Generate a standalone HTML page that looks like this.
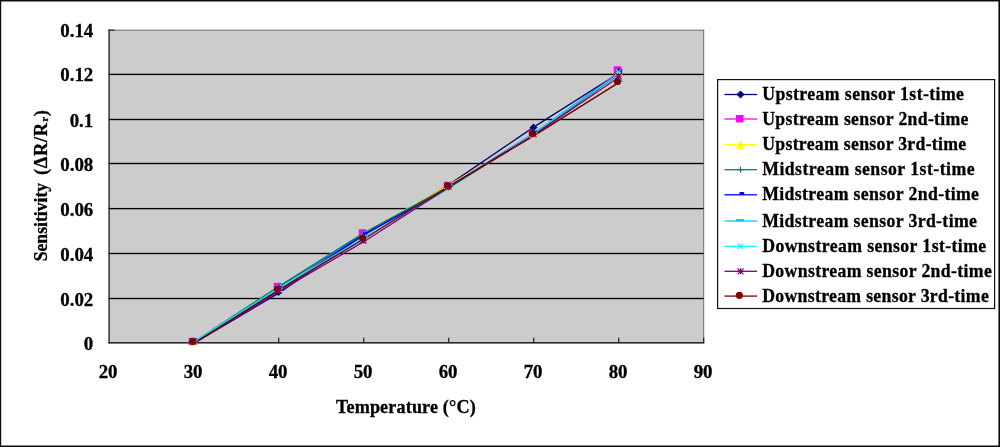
<!DOCTYPE html>
<html lang="en"><head><meta charset="utf-8"><title>Sensitivity vs Temperature</title>
<style>
html,body{margin:0;padding:0;background:#fff;}
body{width:1000px;height:447px;overflow:hidden;}
svg{display:block;}
text{font-family:"Liberation Serif","Times New Roman",serif;font-weight:bold;fill:#000;stroke:#000;stroke-width:0.3px;}
.ax{font-size:18.9px;}
.lg{font-size:18.1px;}
</style></head><body>
<svg width="1000" height="447" viewBox="0 0 1000 447">
<rect x="0" y="0" width="1000" height="447" fill="#fff"/>

<path d="M0 0H1000V447H0Z M1.2 1.6V445.6H998.4V1.6Z" fill="#0c0c0c" fill-rule="evenodd"/>
<rect x="108.5" y="30" width="595.5" height="313" fill="#cccccc"/>
<rect x="108.5" y="29.6" width="595.7" height="1.2" fill="#808080"/>
<rect x="703" y="29.6" width="1.2" height="313.6" fill="#808080"/>
<rect x="108.5" y="297.82" width="595" height="1.36" fill="#000"/>
<rect x="108.5" y="252.82" width="595" height="1.36" fill="#000"/>
<rect x="108.5" y="207.92" width="595" height="1.36" fill="#000"/>
<rect x="108.5" y="162.82" width="595" height="1.36" fill="#000"/>
<rect x="108.5" y="118.82" width="595" height="1.36" fill="#000"/>
<rect x="108.5" y="73.72" width="595" height="1.36" fill="#000"/>
<rect x="108.45" y="29.6" width="1.3" height="313.8" fill="#222"/>
<rect x="108.45" y="342.0" width="595.8" height="1.6" fill="#2a2a2a"/>
<rect x="108.5" y="29.6" width="6" height="1.2" fill="#222"/>
<rect x="193.10" y="337.6" width="1.2" height="5" fill="#222"/>
<rect x="278.10" y="337.6" width="1.2" height="5" fill="#222"/>
<rect x="363.10" y="337.6" width="1.2" height="5" fill="#222"/>
<rect x="448.10" y="337.6" width="1.2" height="5" fill="#222"/>
<rect x="533.10" y="337.6" width="1.2" height="5" fill="#222"/>
<rect x="618.10" y="337.6" width="1.2" height="5" fill="#222"/>
<rect x="703.10" y="337.6" width="1.2" height="5" fill="#222"/>
<text class="ax" x="93.3" y="349.6" text-anchor="end">0</text>
<text class="ax" x="93.3" y="305.5" text-anchor="end">0.02</text>
<text class="ax" x="93.3" y="260.5" text-anchor="end">0.04</text>
<text class="ax" x="93.3" y="215.6" text-anchor="end">0.06</text>
<text class="ax" x="93.3" y="170.5" text-anchor="end">0.08</text>
<text class="ax" x="93.3" y="126.5" text-anchor="end">0.1</text>
<text class="ax" x="93.3" y="81.4" text-anchor="end">0.12</text>
<text class="ax" x="93.3" y="37.3" text-anchor="end">0.14</text>
<text class="ax" x="108.1" y="378.2" text-anchor="middle">20</text>
<text class="ax" x="193.1" y="378.2" text-anchor="middle">30</text>
<text class="ax" x="278.1" y="378.2" text-anchor="middle">40</text>
<text class="ax" x="363.1" y="378.2" text-anchor="middle">50</text>
<text class="ax" x="448.1" y="378.2" text-anchor="middle">60</text>
<text class="ax" x="533.1" y="378.2" text-anchor="middle">70</text>
<text class="ax" x="618.1" y="378.2" text-anchor="middle">80</text>
<text class="ax" x="703.1" y="378.2" text-anchor="middle">90</text>
<text x="335.9" y="412.8" font-size="18.1" textLength="139.8" lengthAdjust="spacing">Temperature (°C)</text>
<g transform="translate(46.6 261) rotate(-90)" font-size="18.5"><text transform="translate(-0.3 0) scale(0.95 1)" textLength="82.6" lengthAdjust="spacing">Sensitivity</text><text x="85.9" y="0" textLength="52.3" lengthAdjust="spacing">(ΔR/R</text><text x="139.3" y="1.3" font-size="11">r</text><text x="144.8" y="0">)</text></g>
<defs><filter id="soft" x="0" y="0" width="1000" height="447" filterUnits="userSpaceOnUse"><feGaussianBlur stdDeviation="0.3"/></filter></defs>
<g filter="url(#soft)">
<g fill="none" stroke-width="1.55" stroke-linejoin="round">
<polyline points="193.7,343.5 278.7,293.1 363.7,234.9 448.7,184.9 533.7,127.1 618.7,73.3" stroke="#000080" stroke-width="1.35"/>
<polyline points="193.7,342.6 278.7,287.8 363.7,234.3 448.7,186.4 533.7,135.1 618.7,72.6" stroke="#ff00ff" stroke-width="1.35"/>
<polyline points="193.7,342.6 278.7,287.1 363.7,233.4 448.7,185.1 533.7,135.5 618.7,77.2" stroke="#ffff00" stroke-width="1.35"/>
<polyline points="193.7,342.4 278.7,286.8 363.7,233.3 448.7,186.9 533.7,133.9 618.7,73.7" stroke="#008080" stroke-width="1.9"/>
<polyline points="193.7,343.3 278.7,290.1 363.7,234.9 448.7,187.8 533.7,133.9 618.7,74.3" stroke="#0000ff" stroke-width="1.35"/>
<polyline points="193.7,343.3 278.7,290.1 363.7,239.0 448.7,186.4 533.7,135.8 618.7,82.6" stroke="#00ccff" stroke-width="1.1"/>
<polyline points="193.7,341.7 278.7,288.2 363.7,237.8 448.7,189.1 533.7,133.5 618.7,74.0" stroke="#00ffff" stroke-width="1.1"/>
<polyline points="193.7,343.5 278.7,291.5 363.7,241.7 448.7,187.5 533.7,135.1 618.7,77.3" stroke="#800080" stroke-width="1.35"/>
<polyline points="193.7,343.3 278.7,290.1 363.7,239.0 448.7,186.4 533.7,135.8 618.7,82.6" stroke="#800000" stroke-width="1.45"/>
</g>
<path d="M189.5 341.5L193.5 337.5L197.5 341.5L193.5 345.5Z" fill="#000080"/>
<path d="M274.5 292.0L278.5 288.0L282.5 292.0L278.5 296.0Z" fill="#000080"/>
<path d="M359.5 236.5L363.5 232.5L367.5 236.5L363.5 240.5Z" fill="#000080"/>
<path d="M444.5 186.5L448.5 182.5L452.5 186.5L448.5 190.5Z" fill="#000080"/>
<path d="M529.5 127.5L533.5 123.5L537.5 127.5L533.5 131.5Z" fill="#000080"/>
<path d="M614.5 72.5L618.5 68.5L622.5 72.5L618.5 76.5Z" fill="#000080"/>
<rect x="188.75" y="337.75" width="7.5" height="7.5" fill="#ff00ff"/>
<rect x="273.75" y="282.75" width="7.5" height="7.5" fill="#ff00ff"/>
<rect x="358.75" y="229.25" width="7.5" height="7.5" fill="#ff00ff"/>
<rect x="443.75" y="181.75" width="7.5" height="7.5" fill="#ff00ff"/>
<rect x="528.75" y="130.25" width="7.5" height="7.5" fill="#ff00ff"/>
<rect x="613.75" y="66.25" width="7.5" height="7.5" fill="#ff00ff"/>
<path d="M193.5 337.3L197.8 345.5L189.2 345.5Z" fill="#ffff00"/>
<path d="M278.5 283.8L282.8 292.0L274.2 292.0Z" fill="#ffff00"/>
<path d="M363.5 230.3L367.8 238.5L359.2 238.5Z" fill="#ffff00"/>
<path d="M448.5 180.8L452.8 189.0L444.2 189.0Z" fill="#ffff00"/>
<path d="M533.5 129.3L537.8 137.5L529.2 137.5Z" fill="#ffff00"/>
<path d="M618.5 68.3L622.8 76.5L614.2 76.5Z" fill="#ffff00"/>
<path d="M190.0 341.5H197.0M193.5 338.5V344.5" stroke="#008080" stroke-width="1.2" fill="none"/>
<path d="M275.0 286.5H282.0M278.5 283.5V289.5" stroke="#008080" stroke-width="1.2" fill="none"/>
<path d="M360.0 233.0H367.0M363.5 230.0V236.0" stroke="#008080" stroke-width="1.2" fill="none"/>
<path d="M445.0 186.5H452.0M448.5 183.5V189.5" stroke="#008080" stroke-width="1.2" fill="none"/>
<path d="M530.0 133.0H537.0M533.5 130.0V136.0" stroke="#008080" stroke-width="1.2" fill="none"/>
<path d="M615.0 71.0H622.0M618.5 68.0V74.0" stroke="#008080" stroke-width="1.2" fill="none"/>
<rect x="192.40" y="338.80" width="4.8" height="2.9" rx="0.8" fill="#0000ff"/>
<rect x="277.40" y="285.30" width="4.8" height="2.9" rx="0.8" fill="#0000ff"/>
<rect x="362.40" y="232.30" width="4.8" height="2.9" rx="0.8" fill="#0000ff"/>
<rect x="447.40" y="184.80" width="4.8" height="2.9" rx="0.8" fill="#0000ff"/>
<rect x="532.40" y="130.30" width="4.8" height="2.9" rx="0.8" fill="#0000ff"/>
<rect x="617.40" y="68.80" width="4.8" height="2.9" rx="0.8" fill="#0000ff"/>
<rect x="189.5" y="339.5" width="8" height="2.4" fill="#00ccff"/>
<rect x="274.5" y="287.0" width="8" height="2.4" fill="#00ccff"/>
<rect x="359.5" y="236.0" width="8" height="2.4" fill="#00ccff"/>
<rect x="444.5" y="183.5" width="8" height="2.4" fill="#00ccff"/>
<rect x="529.5" y="131.5" width="8" height="2.4" fill="#00ccff"/>
<rect x="614.5" y="79.5" width="8" height="2.4" fill="#00ccff"/>
<path d="M190.9 338.9L196.1 344.1M196.1 338.9L190.9 344.1" stroke="#00ffff" stroke-width="1.2" fill="none"/>
<path d="M275.9 284.9L281.1 290.1M281.1 284.9L275.9 290.1" stroke="#00ffff" stroke-width="1.2" fill="none"/>
<path d="M360.9 234.4L366.1 239.6M366.1 234.4L360.9 239.6" stroke="#00ffff" stroke-width="1.2" fill="none"/>
<path d="M445.9 184.4L451.1 189.6M451.1 184.4L445.9 189.6" stroke="#00ffff" stroke-width="1.2" fill="none"/>
<path d="M530.9 129.9L536.1 135.1M536.1 129.9L530.9 135.1" stroke="#00ffff" stroke-width="1.2" fill="none"/>
<path d="M615.9 69.4L621.1 74.6M621.1 69.4L615.9 74.6" stroke="#00ffff" stroke-width="1.2" fill="none"/>
<path d="M190.5 338.5L196.5 344.5M196.5 338.5L190.5 344.5M193.5 338.5V344.5M190.0 341.5H197.0" stroke="#800080" stroke-width="1.2" fill="none"/>
<path d="M275.5 287.5L281.5 293.5M281.5 287.5L275.5 293.5M278.5 287.5V293.5M275.0 290.5H282.0" stroke="#800080" stroke-width="1.2" fill="none"/>
<path d="M360.5 237.5L366.5 243.5M366.5 237.5L360.5 243.5M363.5 237.5V243.5M360.0 240.5H367.0" stroke="#800080" stroke-width="1.2" fill="none"/>
<path d="M445.5 183.5L451.5 189.5M451.5 183.5L445.5 189.5M448.5 183.5V189.5M445.0 186.5H452.0" stroke="#800080" stroke-width="1.2" fill="none"/>
<path d="M530.5 131.0L536.5 137.0M536.5 131.0L530.5 137.0M533.5 131.0V137.0M530.0 134.0H537.0" stroke="#800080" stroke-width="1.2" fill="none"/>
<path d="M615.5 73.0L621.5 79.0M621.5 73.0L615.5 79.0M618.5 73.0V79.0M615.0 76.0H622.0" stroke="#800080" stroke-width="1.2" fill="none"/>
<circle cx="192.5" cy="341.5" r="3.6" fill="#800000"/>
<circle cx="277.5" cy="289.0" r="3.6" fill="#800000"/>
<circle cx="362.5" cy="238.0" r="3.6" fill="#800000"/>
<circle cx="447.5" cy="185.5" r="3.6" fill="#800000"/>
<circle cx="532.5" cy="133.5" r="3.6" fill="#800000"/>
<circle cx="617.5" cy="81.5" r="3.6" fill="#800000"/>
</g>
<rect x="717.6" y="79.6" width="277" height="228.9" fill="#fff" stroke="#111" stroke-width="1.2"/>
<rect x="724.5" y="93.85" width="32.5" height="1.3" fill="#000080"/>
<path d="M736.5 94.5L740.5 90.5L744.5 94.5L740.5 98.5Z" fill="#000080"/>
<text class="lg" transform="translate(762.2 99.9) scale(0.98 1)" textLength="205.9" lengthAdjust="spacing">Upstream sensor 1st-time</text>
<rect x="724.5" y="118.35" width="32.5" height="1.3" fill="#ff00ff"/>
<rect x="736.05" y="114.95" width="7.5" height="7.5" fill="#ff00ff"/>
<text class="lg" transform="translate(762.2 124.6) scale(0.98 1)" textLength="210.5" lengthAdjust="spacing">Upstream sensor 2nd-time</text>
<rect x="724.5" y="144.05" width="32.5" height="1.3" fill="#ffff00"/>
<path d="M740.5 140.5L744.8 148.7L736.2 148.7Z" fill="#ffff00"/>
<text class="lg" transform="translate(762.2 149.8) scale(0.98 1)" textLength="208.2" lengthAdjust="spacing">Upstream sensor 3rd-time</text>
<rect x="724.5" y="169.05" width="32.5" height="1.3" fill="#008080"/>
<path d="M737.0 169.7H744.0M740.5 166.7V172.7" stroke="#008080" stroke-width="1.2" fill="none"/>
<text class="lg" transform="translate(762.2 175.2) scale(0.98 1)" textLength="216.7" lengthAdjust="spacing">Midstream sensor 1st-time</text>
<rect x="724.5" y="194.15" width="32.5" height="1.3" fill="#0000ff"/>
<rect x="739.40" y="192.10" width="4.8" height="2.9" rx="0.8" fill="#0000ff"/>
<text class="lg" transform="translate(762.2 200.4) scale(0.98 1)" textLength="221.2" lengthAdjust="spacing">Midstream sensor 2nd-time</text>
<rect x="724.5" y="220.35" width="32.5" height="1.3" fill="#00ccff"/>
<rect x="736.1" y="219.0" width="8" height="2.4" fill="#00ccff"/>
<text class="lg" transform="translate(762.2 226.7) scale(0.98 1)" textLength="219.1" lengthAdjust="spacing">Midstream sensor 3rd-time</text>
<rect x="724.5" y="245.65" width="32.5" height="1.3" fill="#00ffff"/>
<path d="M737.9 243.7L743.1 248.9M743.1 243.7L737.9 248.9" stroke="#00ffff" stroke-width="1.2" fill="none"/>
<text class="lg" transform="translate(762.2 252.0) scale(0.98 1)" textLength="228.6" lengthAdjust="spacing">Downstream sensor 1st-time</text>
<rect x="724.5" y="270.65" width="32.5" height="1.3" fill="#800080"/>
<path d="M737.5 268.3L743.5 274.3M743.5 268.3L737.5 274.3M740.5 268.3V274.3M737.0 271.3H744.0" stroke="#800080" stroke-width="1.2" fill="none"/>
<text class="lg" transform="translate(762.2 276.9) scale(0.98 1)" textLength="234.3" lengthAdjust="spacing">Downstream sensor 2nd-time</text>
<rect x="724.5" y="295.45" width="32.5" height="1.3" fill="#800000"/>
<circle cx="739.4" cy="295.3" r="3.6" fill="#800000"/>
<text class="lg" transform="translate(762.2 301.9) scale(0.98 1)" textLength="231.2" lengthAdjust="spacing">Downstream sensor 3rd-time</text>
</svg></body></html>
